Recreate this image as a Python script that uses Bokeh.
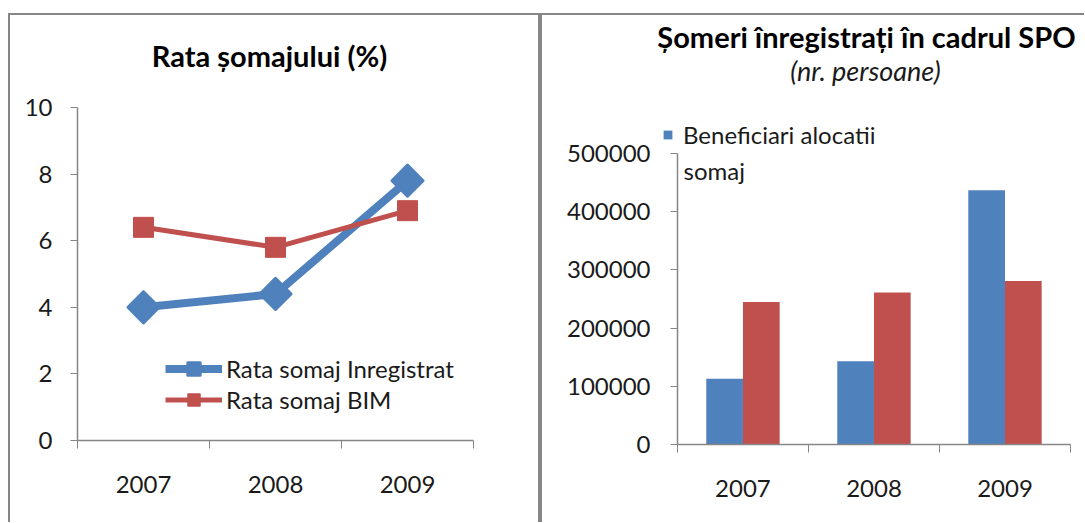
from bokeh.plotting import figure
from bokeh.models import (Range1d, FixedTicker, Legend, LegendItem, Label)
from bokeh.embed import file_html
from bokeh.resources import INLINE
import math

years = ["2007", "2008", "2009"]
rata_inregistrat = [4.0, 4.4, 7.8]
rata_bim = [6.4, 5.8, 6.9]
beneficiari = [113000, 143000, 437000]
someri_total = [245000, 261000, 281000]
ticks_left = [0, 2, 4, 6, 8, 10]
ticks_right = [0, 100000, 200000, 300000, 400000, 500000]

BLUE = "#4F81BD"
RED = "#C0504D"
AXIS = "#868686"
TXT = "#1a1a1a"
FONT = "Lato"

xc = [i + 0.5 for i in range(len(years))]
overrides = {x: y for x, y in zip(xc, years)}
ncat = len(years)


def clean(p):
    p.xgrid.visible = False
    p.ygrid.visible = False
    p.outline_line_color = None
    p.background_fill_color = None
    p.border_fill_color = None


def style_xaxis(p):
    xa = p.xaxis[0]
    xa.ticker = FixedTicker(ticks=xc, minor_ticks=list(range(ncat + 1)))
    xa.major_label_overrides = overrides
    xa.major_tick_line_color = None
    xa.major_tick_out = 0
    xa.major_tick_in = 0
    xa.minor_tick_line_color = AXIS
    xa.minor_tick_out = 8
    xa.minor_tick_in = 0
    xa.axis_line_color = AXIS
    xa.axis_line_width = 1.5
    xa.major_label_standoff = 27
    xa.bounds = (0, ncat)
    xa.major_label_text_font = FONT
    xa.major_label_text_font_size = "24px"
    xa.major_label_text_color = TXT


def style_yaxis(p, y_standoff, yticks):
    ya = p.yaxis[0]
    ya.ticker = FixedTicker(ticks=yticks)
    ya.bounds = (yticks[0], yticks[-1])
    ya.axis_line_color = AXIS
    ya.axis_line_width = 1.5
    ya.major_tick_line_color = AXIS
    ya.major_tick_out = 7
    ya.major_tick_in = 0
    ya.minor_tick_line_color = None
    ya.major_label_standoff = y_standoff
    ya.major_label_text_font = FONT
    ya.major_label_text_font_size = "24px"
    ya.major_label_text_color = TXT


# ---------------- left chart ----------------
p1 = figure(width=532, height=509, output_backend="svg", toolbar_location=None,
            title_location=None,
            x_range=Range1d(0, 3), y_range=Range1d(0, 12.82),
            min_border_left=69, min_border_right=67, min_border_top=0, min_border_bottom=82)
style_xaxis(p1)
style_yaxis(p1, 18, ticks_left)
clean(p1)

l1 = p1.line(xc, rata_inregistrat, line_color=BLUE, line_width=8, line_join="round")
m1 = p1.scatter(xc, rata_inregistrat, marker="square", size=22, angle=math.pi / 4,
                fill_color=BLUE, line_color=BLUE, line_width=3, line_join="round")
l2 = p1.line(xc, rata_bim, line_color=RED, line_width=5, line_join="round")
m2 = p1.scatter(xc, rata_bim, marker="square", size=20, fill_color=RED,
                line_color=RED, line_width=1)

leg1 = Legend(items=[LegendItem(label="Rata somaj Inregistrat", renderers=[l1, m1]),
                     LegendItem(label="Rata somaj BIM", renderers=[l2, m2])],
              location=(88, 25), glyph_width=57, glyph_height=31, label_height=31,
              label_standoff=4, spacing=0, padding=0, margin=0,
              border_line_color=None, background_fill_alpha=0,
              label_text_font=FONT, label_text_font_size="24px", label_text_color=TXT)
p1.add_layout(leg1, "center")

p1.add_layout(Label(x=195.5, y=385, x_units="screen", y_units="screen",
                    text="Rata șomajului  (%)", text_align="center", text_baseline="alphabetic",
                    text_font=FONT, text_font_style="bold", text_font_size="29px",
                    text_color="#000000"))
p1.styles = {"position": "absolute", "left": "8px", "top": "13px",
             "box-shadow": f"inset 2px 0 0 {AXIS}, inset -2px 0 0 {AXIS}, inset 0 2px 0 {AXIS}"}

# ---------------- right chart (bars, legend, titles) ----------------
# frame spans x 656..1084 and y 13..444; categories 0..3 map to 677..1070,
# data 0..500000 maps to 444..153
p2 = figure(width=544, height=509, output_backend="svg", toolbar_location=None,
            title_location=None,
            x_range=Range1d(-0.16, 3.107), y_range=Range1d(0, 740550),
            min_border_left=116, min_border_right=0, min_border_top=0, min_border_bottom=78)
style_xaxis(p2)
p2.yaxis.visible = False
clean(p2)

bw = 0.28
b1 = p2.vbar(x=[x - bw / 2 for x in xc], top=beneficiari, width=bw, bottom=0,
             fill_color=BLUE, line_color=None)
b2 = p2.vbar(x=[x + bw / 2 for x in xc], top=someri_total, width=bw, bottom=0,
             fill_color=RED, line_color=None)

leg2 = Legend(items=[LegendItem(label="Beneficiari alocatii", renderers=[b1])],
              location=(6, 295), glyph_width=11, glyph_height=11, label_height=26,
              label_standoff=10, spacing=0, padding=0, margin=0,
              border_line_color=None, background_fill_alpha=0,
              label_text_font=FONT, label_text_font_size="24px", label_text_color=TXT)
p2.add_layout(leg2, "center")
p2.add_layout(Label(x=27, y=274, x_units="screen", y_units="screen", text="somaj",
                    text_align="left", text_baseline="middle", text_font=FONT,
                    text_font_size="24px", text_color=TXT))
p2.add_layout(Label(x=210, y=408, x_units="screen", y_units="screen",
                    text="Șomeri înregistrați în cadrul SPO", text_align="center",
                    text_baseline="alphabetic", text_font=FONT, text_font_style="bold",
                    text_font_size="29px", text_color="#000000"))
p2.add_layout(Label(x=209, y=374, x_units="screen", y_units="screen",
                    text="(nr. persoane)", text_align="center", text_baseline="alphabetic",
                    text_font=FONT, text_font_style="italic", text_font_size="27px",
                    text_color=TXT))
p2.styles = {"position": "absolute", "left": "540px", "top": "13px",
             "box-shadow": f"inset 2px 0 0 {AXIS}, inset 0 2px 0 {AXIS}"}

# ---------------- right chart value axis (transparent overlay, same geometry) ----------------
p2y = figure(width=544, height=509, output_backend="svg", toolbar_location=None,
             title_location=None,
             x_range=Range1d(0, 3), y_range=Range1d(0, ticks_right[-1]),
             min_border_left=137, min_border_right=14, min_border_top=140, min_border_bottom=78)
p2y.xaxis.visible = False
p2y.yaxis.formatter.use_scientific = False
style_yaxis(p2y, 20, ticks_right)
clean(p2y)
p2y.styles = {"position": "absolute", "left": "540px", "top": "13px"}

open("out.html", "w").write(file_html([p1, p2, p2y], INLINE))
